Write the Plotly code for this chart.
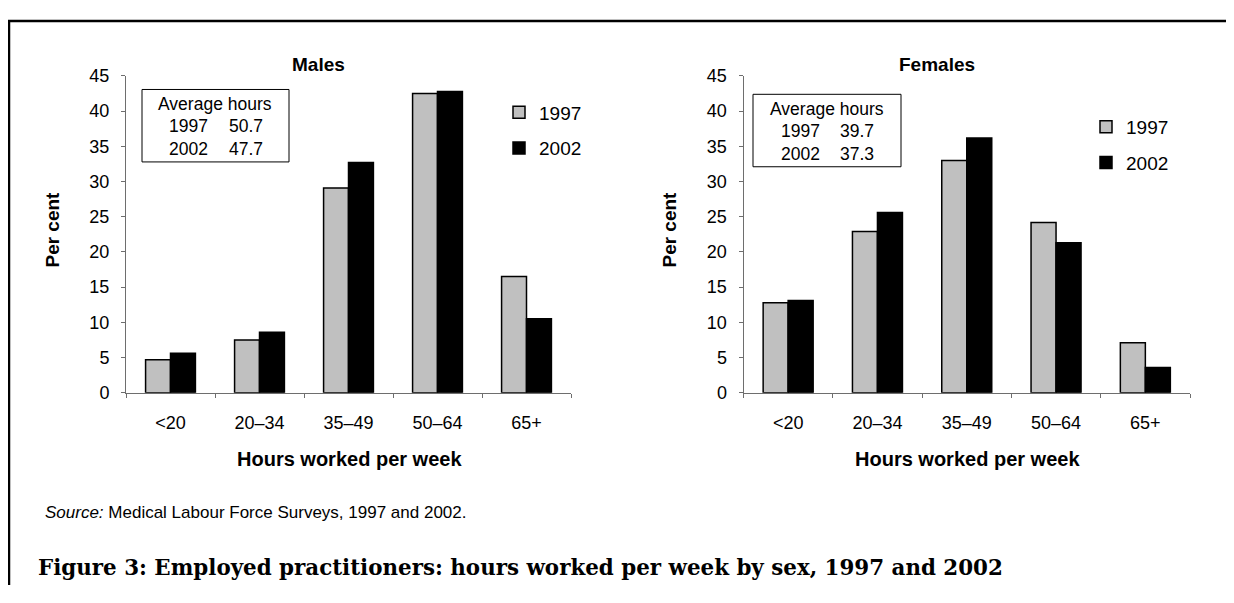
import plotly.graph_objects as go

categories = ["<20", "20–34", "35–49", "50–64", "65+"]
males_1997 = [4.7, 7.5, 29.1, 42.5, 16.5]
males_2002 = [5.6, 8.6, 32.7, 42.8, 10.5]
females_1997 = [12.8, 22.9, 33.0, 24.2, 7.1]
females_2002 = [13.1, 25.6, 36.2, 21.3, 3.6]
years = ["1997", "2002"]
avg_males = ["50.7", "47.7"]
avg_females = ["39.7", "37.3"]

# page is 1234x603; the browser body keeps its default 8px margin,
# so the figure is 16px smaller and placed 8px in from the top-left corner
OFF = 8
W, H = 1234 - 2 * OFF, 603 - 2 * OFF
SANS = "Liberation Sans, Arial, sans-serif"

def px(x):
    return (x - OFF) / W

def py(y):
    return (H - (y - OFF)) / H

fig = go.Figure()

fill = {"1997": "#c0c0c0", "2002": "#000000"}
for xa, ya, leg, vals in [("x", "y", "legend", (males_1997, males_2002)),
                          ("x2", "y2", "legend2", (females_1997, females_2002))]:
    for yr, v in zip(years, vals):
        fig.add_trace(go.Bar(
            x=categories, y=v, name=yr, xaxis=xa, yaxis=ya, legend=leg,
            legendgroup=leg + yr,
            marker=dict(color=fill[yr], line=dict(color="#000000", width=1.5)),
        ))

axis_common = dict(
    showgrid=False, zeroline=False, showline=True, linecolor="#6e6e6e", linewidth=1,
    ticks="outside", ticklen=4, tickcolor="#6e6e6e",
    tickfont=dict(family=SANS, size=18, color="#000"),
)

left_dom = [px(126), px(571)]
right_dom = [px(743.5), px(1190)]
ydom = [py(396), py(68)]

fig.update_layout(
    width=W, height=H,
    margin=dict(l=0, r=0, t=0, b=0),
    paper_bgcolor="white", plot_bgcolor="white",
    barmode="group", bargap=0.44, bargroupgap=0,
    font=dict(family=SANS, color="#000"),
    xaxis=dict(domain=left_dom, anchor="y", tickson="boundaries", ticklabelstandoff=14, **axis_common),
    yaxis=dict(domain=ydom, anchor="x", range=[0, 45], dtick=5, ticklabelstandoff=8, **axis_common),
    xaxis2=dict(domain=right_dom, anchor="y2", tickson="boundaries", ticklabelstandoff=14, **axis_common),
    yaxis2=dict(domain=ydom, anchor="x2", range=[0, 45], dtick=5, ticklabelstandoff=8, **axis_common),
    legend=dict(x=px(499), y=py(86), xanchor="left", yanchor="top",
                font=dict(family=SANS, size=19), tracegroupgap=8,
                traceorder="grouped", bgcolor="rgba(0,0,0,0)"),
    legend2=dict(x=px(1086), y=py(101), xanchor="left", yanchor="top",
                 font=dict(family=SANS, size=19), tracegroupgap=8,
                 traceorder="grouped", bgcolor="rgba(0,0,0,0)"),
    showlegend=True,
)

ann = []
# subplot titles
ann.append(dict(text="<b>Males</b>", x=px(318), y=py(56), font=dict(size=19)))
ann.append(dict(text="<b>Females</b>", x=px(937), y=py(56), font=dict(size=19)))
# y titles
for xc in (53, 670):
    ann.append(dict(text="<b>Per cent</b>", x=px(xc), y=py(227), textangle=-90, font=dict(size=19)))
# x titles
for xc in (349, 967):
    ann.append(dict(text="<b>Hours worked per week</b>", x=px(xc), y=py(465), font=dict(size=20)))

# average-hours boxes
boxes = [((142, 82, 289, 157), avg_males), ((753, 87, 901, 162), avg_females)]
shapes = []
for (x0, y0, x1, y1), avg in boxes:
    shapes.append(dict(type="rect", xref="paper", yref="paper",
                       x0=px(x0), x1=px(x1), y0=py(y0), y1=py(y1),
                       line=dict(color="#000", width=1), fillcolor="white", layer="below"))
    xc = (x0 + x1) / 2
    ann.append(dict(text="Average hours", x=px(xc), y=py(y0 + 15), font=dict(size=17.5)))
    for i, (yr, a) in enumerate(zip(years, avg)):
        ann.append(dict(text=yr, x=px(xc - 27), y=py(y0 + 38 + 24 * i), font=dict(size=17.5)))
        ann.append(dict(text=a, x=px(xc + 30), y=py(y0 + 38 + 24 * i), font=dict(size=17.5)))

# source and caption
ann.append(dict(text="<i>Source:</i> Medical Labour Force Surveys, 1997 and 2002.",
                x=px(43), y=py(520), xanchor="left", font=dict(size=17)))
ann.append(dict(text="<b>Figure 3: Employed practitioners: hours worked per week by sex, 1997 and 2002</b>",
                x=px(36), y=py(577), xanchor="left",
                font=dict(family="DejaVu Serif, serif", size=21.4)))

for a in ann:
    a.setdefault("xref", "paper")
    a.setdefault("yref", "paper")
    a.setdefault("showarrow", False)
    a.setdefault("xanchor", "center")
    a.setdefault("yanchor", "middle")
    a["font"] = dict(family=a["font"].get("family", SANS), size=a["font"]["size"], color="#000")

# outer border (top and left)
shapes.append(dict(type="line", xref="paper", yref="paper", x0=px(9) - 0.001, x1=1, y0=py(11), y1=py(11),
                   line=dict(color="#000", width=2.5)))
shapes.append(dict(type="line", xref="paper", yref="paper", x0=px(9), x1=px(9), y0=py(11), y1=0,
                   line=dict(color="#000", width=2.5)))

fig.update_layout(annotations=ann, shapes=shapes)
fig.write_html("out.html", config={"displayModeBar": False})
